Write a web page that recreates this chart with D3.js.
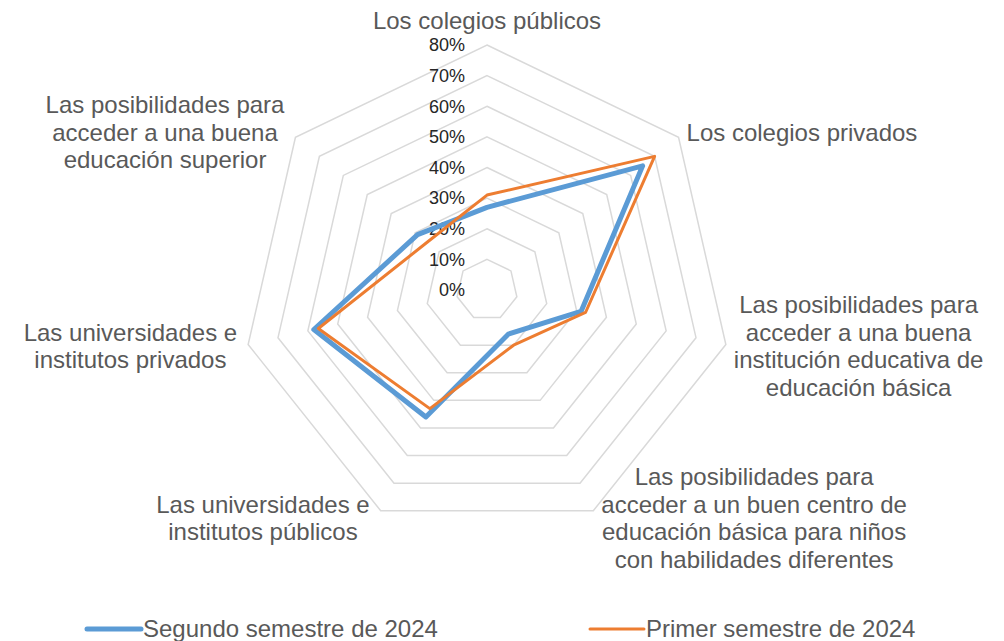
<!DOCTYPE html>
<html>
<head>
<meta charset="utf-8">
<script src="https://cdn.jsdelivr.net/npm/d3@7"></script>
<style>
  body { margin: 0; background: #fff; }
  svg { font-family: "Liberation Sans", Arial, sans-serif; }
</style>
</head>
<body>
<svg width="1004" height="641"></svg>
<script>
// categories clockwise from the top, each split into its display lines
var categories = [
    ["Los colegios públicos"],
    ["Los colegios privados"],
    ["Las posibilidades para", "acceder a una buena", "institución educativa de", "educación básica"],
    ["Las posibilidades para", "acceder a un buen centro de", "educación básica para niños", "con habilidades diferentes"],
    ["Las universidades e", "institutos públicos"],
    ["Las universidades e", "institutos privados"],
    ["Las posibilidades para", "acceder a una buena", "educación superior"]
];

var segundo2024 = [0.27, 0.65, 0.315, 0.16, 0.46, 0.58, 0.29];
var primer2024 = [0.31, 0.70, 0.33, 0.20, 0.43, 0.565, 0.25];

var ticks = [0, 0.1, 0.2, 0.3, 0.4, 0.5, 0.6, 0.7, 0.8];

var seriesNames = ["Segundo semestre de 2024", "Primer semestre de 2024"];

var svg = d3.select("svg"),
    cx = 487,
    cy = 290,
    n = categories.length;

var r = d3.scaleLinear()
    .domain([0, 0.8])
    .range([0, 245]);

function angle(i) { return i * 2 * Math.PI / n; }
function px(i, v) { return cx + Math.sin(angle(i)) * r(v); }
function py(i, v) { return cy - Math.cos(angle(i)) * r(v); }

var g = svg.append("g");

// heptagon gridlines (no spokes)
g.selectAll("path.grid")
    .data(ticks.filter(function(t) { return t > 0; }))
    .enter().append("path")
    .attr("class", "grid")
    .attr("fill", "none")
    .attr("stroke", "#d9d9d9")
    .attr("stroke-width", 1.5)
    .attr("d", function(t) {
        return d3.line()(d3.range(n).map(function(i) { return [px(i, t), py(i, t)]; })) + "Z";
    });

// tick labels along the top axis
g.selectAll("text.tick")
    .data(ticks)
    .enter().append("text")
    .attr("class", "tick")
    .attr("x", cx - 22)
    .attr("y", function(t) { return cy - r(t); })
    .attr("dy", "0.35em")
    .attr("text-anchor", "end")
    .attr("font-size", 18)
    .attr("fill", "#262626")
    .text(function(t) { return d3.format(".0%")(t); });

// series
var series = [
    { name: seriesNames[0], values: segundo2024, color: "#5b9bd5", width: 5 },
    { name: seriesNames[1], values: primer2024, color: "#ed7d31", width: 3 }
];

var radar = d3.lineRadial()
    .angle(function(d, i) { return angle(i); })
    .radius(function(d) { return r(d); })
    .curve(d3.curveLinearClosed);

g.selectAll("path.series")
    .data(series)
    .enter().append("path")
    .attr("class", "series")
    .attr("transform", "translate(" + cx + "," + cy + ")")
    .attr("fill", "none")
    .attr("stroke", function(d) { return d.color; })
    .attr("stroke-width", function(d) { return d.width; })
    .attr("stroke-linejoin", "round")
    .attr("d", function(d) { return radar(d.values); });

// category labels, placed next to the outer ring vertex
var lineH = 27.5;
categories.forEach(function(lines, i) {
    var vx = px(i, 0.8),
        vy = py(i, 0.8),
        s = Math.sin(angle(i)),
        c = Math.cos(angle(i));

    var t = g.append("text")
        .attr("font-size", 24)
        .attr("fill", "#595959")
        .attr("text-anchor", "middle");

    lines.forEach(function(l) {
        t.append("tspan").text(l);
    });

    var maxW = 0;
    t.selectAll("tspan").each(function() {
        maxW = Math.max(maxW, this.getComputedTextLength());
    });

    var bx, by;
    if (Math.abs(s) < 0.1) {
        bx = vx;
        by = vy - 11 - lines.length * lineH / 2;
    } else if (s > 0) {
        bx = vx + 8 + maxW / 2;
        by = vy - 8 * c;
    } else {
        bx = vx - 11 - maxW / 2;
        by = vy - 8 * c;
    }

    var top = by - (lines.length - 1) * lineH / 2;
    t.selectAll("tspan")
        .attr("x", bx)
        .attr("y", function(d, k) { return top + k * lineH; })
        .attr("dy", "0.35em");
});

// legend
var legendX = [85, 588];
var leg = svg.selectAll("g.legend")
    .data(series)
    .enter().append("g")
    .attr("class", "legend")
    .attr("transform", function(d, i) { return "translate(" + legendX[i] + ",629)"; });

leg.append("line")
    .attr("x1", 2)
    .attr("x2", 56)
    .attr("stroke", function(d) { return d.color; })
    .attr("stroke-width", function(d) { return d.width; })
    .attr("stroke-linecap", "round");

leg.append("text")
    .attr("x", 58)
    .attr("dy", "0.35em")
    .attr("font-size", 24)
    .attr("fill", "#595959")
    .text(function(d) { return d.name; });
</script>
</body>
</html>
